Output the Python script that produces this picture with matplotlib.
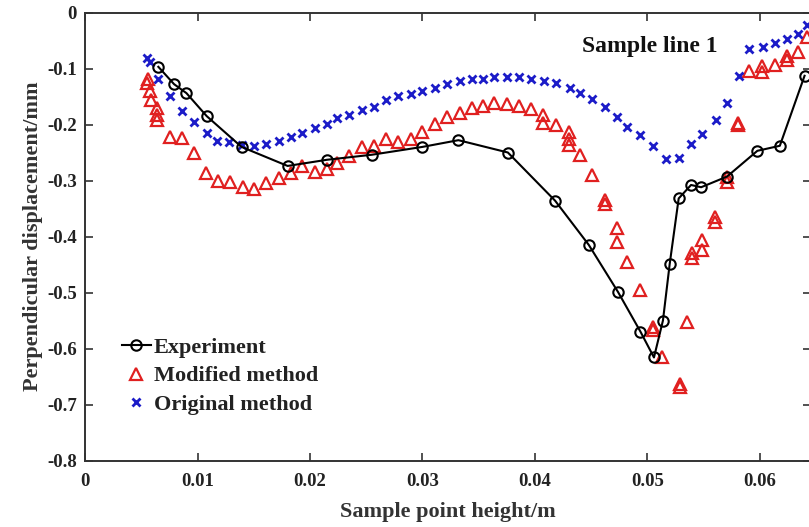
import matplotlib
matplotlib.use('Agg')
import matplotlib.pyplot as plt

# Experiment (black circles joined by line)
exp_x = [0.0065, 0.0079, 0.0090, 0.0108, 0.0139, 0.0180, 0.0215, 0.0255, 0.0300, 0.0332,
         0.0376, 0.0418, 0.0448, 0.0474, 0.0494, 0.0506, 0.0514, 0.0520, 0.0528, 0.0539,
         0.0548, 0.0571, 0.0598, 0.0618, 0.0640]
exp_y = [-0.097, -0.128, -0.144, -0.185, -0.240, -0.274, -0.263, -0.254, -0.240, -0.228,
         -0.250, -0.336, -0.415, -0.499, -0.570, -0.616, -0.550, -0.449, -0.332, -0.308,
         -0.312, -0.293, -0.247, -0.238, -0.113]

# Modified method (red open triangles)
mod_x = [0.0056, 0.00546, 0.00576, 0.00585, 0.0064, 0.0064, 0.0064, 0.0075, 0.0086, 0.0097,
         0.0107, 0.0118, 0.0129, 0.0140, 0.0150, 0.0161, 0.0172, 0.0183, 0.0193, 0.0204,
         0.0215, 0.0224, 0.0235, 0.0246, 0.0257, 0.0268, 0.0278, 0.0290, 0.0300, 0.0311,
         0.0322, 0.0333, 0.0344, 0.0354, 0.0364, 0.0375, 0.0386, 0.0397, 0.0407, 0.0407,
         0.0419, 0.0430, 0.0430, 0.0430, 0.0440, 0.0451, 0.0462, 0.0462, 0.0473, 0.0473,
         0.0482, 0.0494, 0.0505, 0.0505, 0.0513, 0.0529, 0.0529, 0.0535, 0.0540, 0.0540,
         0.0549, 0.0549, 0.0560, 0.0560, 0.0571, 0.0571, 0.0581, 0.0581, 0.0591, 0.0602,
         0.0602, 0.0614, 0.0624, 0.0624, 0.0634, 0.0642]
mod_y = [-0.118, -0.126, -0.141, -0.156, -0.171, -0.183, -0.192, -0.222, -0.224, -0.250,
         -0.287, -0.301, -0.302, -0.311, -0.316, -0.305, -0.296, -0.287, -0.274, -0.284,
         -0.280, -0.269, -0.256, -0.240, -0.238, -0.225, -0.231, -0.226, -0.213, -0.199,
         -0.186, -0.180, -0.171, -0.167, -0.162, -0.163, -0.167, -0.173, -0.183, -0.198,
         -0.201, -0.213, -0.225, -0.237, -0.254, -0.290, -0.334, -0.342, -0.385, -0.409,
         -0.445, -0.496, -0.561, -0.567, -0.615, -0.668, -0.663, -0.552, -0.430, -0.439,
         -0.406, -0.424, -0.365, -0.374, -0.293, -0.302, -0.197, -0.201, -0.104, -0.096,
         -0.107, -0.094, -0.078, -0.084, -0.070, -0.043]

# Original method (blue crosses)
orig_x = [0.00546, 0.00576, 0.0065, 0.0075, 0.00858, 0.00967, 0.0108, 0.0117, 0.0128, 0.0139,
          0.0150, 0.0161, 0.0172, 0.0183, 0.0193, 0.0204, 0.0215, 0.0224, 0.0235, 0.0246,
          0.0257, 0.0268, 0.0278, 0.0290, 0.0300, 0.0311, 0.0322, 0.0333, 0.0344, 0.0354,
          0.0364, 0.0375, 0.0386, 0.0397, 0.0408, 0.0419, 0.0431, 0.0440, 0.0451, 0.0462,
          0.0473, 0.0482, 0.0494, 0.0505, 0.0517, 0.0528, 0.0539, 0.0549, 0.0561, 0.0571,
          0.0582, 0.0591, 0.0603, 0.0614, 0.0624, 0.0634, 0.0642]
orig_y = [-0.082, -0.088, -0.118, -0.149, -0.175, -0.196, -0.216, -0.229, -0.232, -0.237,
          -0.238, -0.235, -0.229, -0.222, -0.216, -0.207, -0.199, -0.189, -0.183, -0.174,
          -0.168, -0.156, -0.149, -0.146, -0.140, -0.134, -0.128, -0.122, -0.119, -0.118,
          -0.115, -0.115, -0.116, -0.118, -0.122, -0.126, -0.134, -0.143, -0.155, -0.169,
          -0.186, -0.204, -0.219, -0.238, -0.262, -0.259, -0.235, -0.217, -0.192, -0.161,
          -0.113, -0.066, -0.061, -0.055, -0.048, -0.038, -0.022]

x_ticks = [0, 0.01, 0.02, 0.03, 0.04, 0.05, 0.06]
x_tick_labels = ['0', '0.01', '0.02', '0.03', '0.04', '0.05', '0.06']
y_ticks = [0, -0.1, -0.2, -0.3, -0.4, -0.5, -0.6, -0.7, -0.8]
y_tick_labels = ['0', '-0.1', '-0.2', '-0.3', '-0.4', '-0.5', '-0.6', '-0.7', '-0.8']

plt.rcParams['font.family'] = ['Liberation Serif', 'DejaVu Serif']
plt.rcParams['font.weight'] = 'bold'

fig = plt.figure(figsize=(8.09, 5.27), dpi=100)
ax = fig.add_axes([85.3 / 809, 66.5 / 527, 726 / 809, 448 / 527])

red = '#e02020'
blue = '#1c1cc8'

ax.plot(exp_x, exp_y, '-o', color='black', lw=1.5, ms=7.5, mfc='none', mew=1.5,
        label='Experiment', zorder=3)
ax.plot(mod_x, mod_y, '^', ls='none', color=red, ms=8.5, mfc='none', mew=1.6,
        label='Modified method', zorder=2)
ax.plot(orig_x, orig_y, 'x', ls='none', color=blue, ms=6, mew=2.0,
        label='Original method', zorder=2)

ax.set_xlim(0, 0.0646)
ax.set_ylim(-0.8, 0)
ax.set_xticks(x_ticks)
ax.set_xticklabels(x_tick_labels)
ax.set_yticks(y_ticks)
ax.set_yticklabels(y_tick_labels)
ax.tick_params(direction='in', top=True, right=True, length=6, width=1.2,
               labelsize=13.5, colors='#333333', labelcolor='#222222')
ax.tick_params(axis='x', pad=9)
ax.tick_params(axis='y', pad=6)
for s in ax.spines.values():
    s.set_linewidth(1.4)
    s.set_color('#333333')

ax.set_xlabel('Sample point height/m', fontsize=16, fontweight='bold', color='#333333', labelpad=9)
ax.set_ylabel('Perpendicular displacement/mm', fontsize=16, fontweight='bold', color='#333333', labelpad=3)

ax.text(0.778, 0.925, 'Sample line 1', transform=ax.transAxes, ha='center', va='center',
        fontsize=17, fontweight='bold', color='#111111')

leg = ax.legend(loc='upper left', bbox_to_anchor=(0.044, 0.285), frameon=False,
                fontsize=16, handlelength=1.3, handletextpad=0.15, labelspacing=0.36,
                borderaxespad=0, borderpad=0.2)
for t in leg.get_texts():
    t.set_fontweight('bold')
    t.set_color('#222222')

fig.savefig('out.png', dpi=100)
